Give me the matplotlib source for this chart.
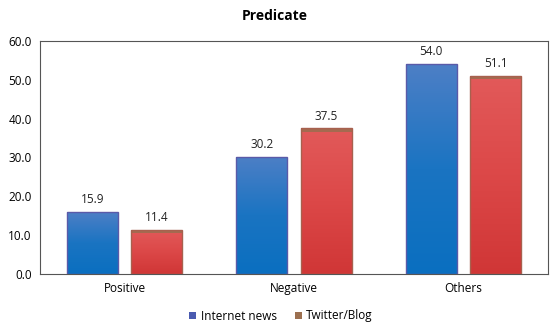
import numpy as np
import matplotlib
matplotlib.use("Agg")
import matplotlib.pyplot as plt
from matplotlib.patches import Rectangle, Patch
from matplotlib.colors import LinearSegmentedColormap

categories = ["Positive", "Negative", "Others"]
internet_news = [15.9, 30.2, 54.0]
twitter_blog = [11.4, 37.5, 51.1]
series_names = ["Internet news", "Twitter/Blog"]
yticks = [0, 10, 20, 30, 40, 50, 60]

plt.rcParams['font.family'] = ['Open Sans', 'DejaVu Sans']

fig = plt.figure(figsize=(5.5, 3.3), dpi=100)
ax = fig.add_axes([40/550, 56/330, 508/550, 233/330])

x = np.arange(len(categories))
w = 0.30
off = 0.19

blue_cmap = LinearSegmentedColormap.from_list("b", ["#0a6fc0", "#1a74c2", "#4d7fc6"])
red_cmap = LinearSegmentedColormap.from_list("r", ["#d03636", "#dc4848", "#e25a5a"])
grad = np.linspace(0, 1, 256).reshape(-1, 1)

def gbar(xc, h, cmap, edge, top=None):
    r = Rectangle((xc - w/2, 0), w, h, facecolor='none', edgecolor=edge, lw=1.0, zorder=3)
    ax.add_patch(r)
    im = ax.imshow(grad, cmap=cmap, extent=(xc - w/2, xc + w/2, 0, h), origin='lower',
                   aspect='auto', zorder=2, interpolation='bilinear')
    im.set_clip_path(r)
    if top is not None:
        ax.add_patch(Rectangle((xc - w/2, h - 0.9), w, 0.9, facecolor=top, edgecolor='none', zorder=2.5))
    ax.text(xc, h + 1.5, f"{h:.1f}", ha='center', va='bottom', fontsize=8.5, color='#222222', zorder=4)

for i in range(len(categories)):
    gbar(x[i] - off, internet_news[i], blue_cmap, '#5a5aa8')
    gbar(x[i] + off, twitter_blog[i], red_cmap, '#a8604e', top='#a46a50')

ax.set_xlim(-0.5, 2.5)
ax.set_ylim(0, 60)
ax.set_yticks(yticks)
ax.set_yticklabels([f"{v:.1f}" for v in yticks], fontsize=8.5)
ax.set_xticks(x)
ax.set_xticklabels(categories, fontsize=8.5)
ax.tick_params(length=0, pad=6)
for s in ax.spines.values():
    s.set_color('#555555')
    s.set_linewidth(0.8)

fig.text(275/550, 1 - 16/330, "Predicate", ha='center', va='center', fontsize=10, fontweight='bold')

handles = [Patch(facecolor='#4a5bb0', edgecolor='none'), Patch(facecolor='#9c7050', edgecolor='none')]
fig.legend(handles, series_names, loc='center', bbox_to_anchor=(281/550, 1 - 316/330), ncol=2,
           frameon=False, fontsize=8.5, handlelength=0.6, handleheight=0.6, handletextpad=0.4,
           columnspacing=1.5)

fig.savefig("out.png", dpi=100)
